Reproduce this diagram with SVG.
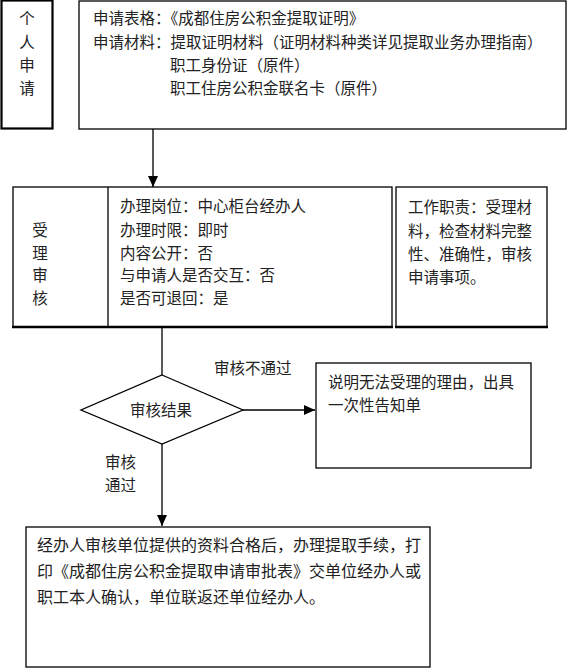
<svg xmlns="http://www.w3.org/2000/svg" width="567" height="669" viewBox="0 0 567 669">
<style>
.box{fill:#fff;stroke:#000;stroke-width:1.3}
.thick{stroke:#000;stroke-width:2.6;fill:none}
.t{font-family:"Noto Sans CJK SC","Noto Sans",sans-serif;font-size:15.5px;fill:#222}
.c{text-anchor:middle}
.con{stroke:#000;stroke-width:1.3;fill:none}
</style>
<defs>
<marker id="ah" markerUnits="userSpaceOnUse" markerWidth="12" markerHeight="10" refX="11" refY="5" orient="auto">
<path d="M0,0 L11,5 L0,10 Z" fill="#000"/>
</marker>
</defs>
<rect width="567" height="669" fill="#fff"/>
<g id="connectors">
<line class="con" x1="153" y1="129" x2="153" y2="187" marker-end="url(#ah)"/>
<line class="con" x1="162" y1="328" x2="162" y2="375"/>
<line class="con" x1="243" y1="410" x2="315" y2="410" marker-end="url(#ah)"/>
<line class="con" x1="162" y1="444" x2="162" y2="526" marker-end="url(#ah)"/>
<text class="t" x="214" y="374">审核不通过</text>
<text class="t" x="105" y="468">审核</text>
<text class="t" x="105" y="491">通过</text>
</g>
<g id="n-apply">
<rect x="1.5" y="0.5" width="51" height="128" fill="#fff" stroke="#000" stroke-width="2.2"/>
<text class="t c" x="27" y="24">个</text>
<text class="t c" x="27" y="48">人</text>
<text class="t c" x="27" y="71">申</text>
<text class="t c" x="27" y="94">请</text>
</g>
<g id="n-materials">
<rect class="box" x="79" y="1" width="487" height="128"/>
<text class="t" x="93" y="24">申请表格：《成都住房公积金提取证明》</text>
<text class="t" x="93" y="48">申请材料：提取证明材料（证明材料种类详见提取业务办理指南）</text>
<text class="t" x="170" y="71">职工身份证（原件）</text>
<text class="t" x="170" y="94">职工住房公积金联名卡（原件）</text>
</g>
<g id="n-review">
<rect class="box" x="13" y="187" width="379" height="140"/>
<line class="con" x1="108" y1="187" x2="108" y2="327"/>
<line class="thick" x1="12" y1="327" x2="393" y2="327"/>
<text class="t c" x="40" y="236">受</text>
<text class="t c" x="40" y="259">理</text>
<text class="t c" x="40" y="281">审</text>
<text class="t c" x="40" y="304">核</text>
<text class="t" x="120" y="212">办理岗位：中心柜台经办人</text>
<text class="t" x="120" y="236">办理时限：即时</text>
<text class="t" x="120" y="259">内容公开：否</text>
<text class="t" x="120" y="281">与申请人是否交互：否</text>
<text class="t" x="120" y="304">是否可退回：是</text>
</g>
<g id="n-duty">
<rect class="box" x="396" y="187" width="151" height="140"/>
<line class="thick" x1="395" y1="327" x2="548" y2="327"/>
<text class="t" x="408" y="213">工作职责：受理材</text>
<text class="t" x="408" y="237">料，检查材料完整</text>
<text class="t" x="408" y="260">性、准确性，审核</text>
<text class="t" x="408" y="283">申请事项。</text>
</g>
<g id="n-decision">
<polygon class="box" points="162,375 243,410 162,444 81,410"/>
<text class="t c" x="161" y="416">审核结果</text>
</g>
<g id="n-reject">
<rect class="box" x="316" y="363" width="215" height="105" stroke-width="1.6"/>
<text class="t" x="328" y="388">说明无法受理的理由，出具</text>
<text class="t" x="328" y="411">一次性告知单</text>
</g>
<g id="n-approve">
<rect class="box" x="26" y="527" width="404" height="140"/>
<text class="t" x="37" y="551" style="font-size:16px">经办人审核单位提供的资料合格后，办理提取手续，打</text>
<text class="t" x="37" y="577" style="font-size:16px">印《成都住房公积金提取申请审批表》交单位经办人或</text>
<text class="t" x="37" y="603" style="font-size:16px">职工本人确认，单位联返还单位经办人。</text>
</g>
</svg>
